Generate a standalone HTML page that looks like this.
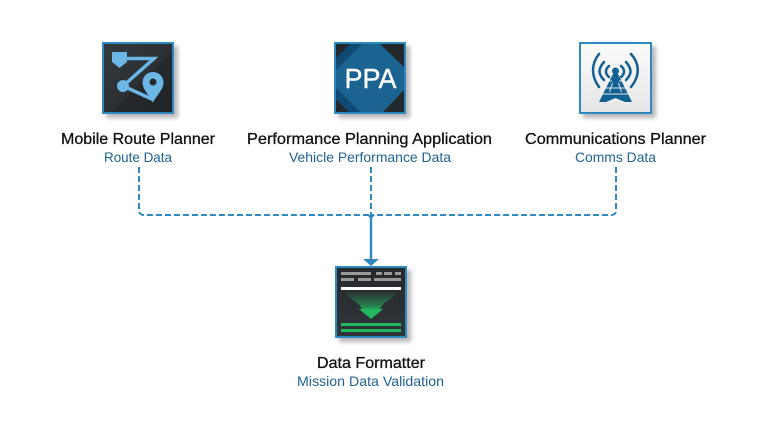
<!DOCTYPE html>
<html><head><meta charset="utf-8"><style>
html,body{margin:0;padding:0;background:#fff}
svg{display:block}
text{font-family:"Liberation Sans",sans-serif}
.t{font-size:16px;fill:#111;stroke:#111;stroke-width:.3px}
.s{font-size:14px;fill:#1f6391}
</style></head><body>
<svg width="769" height="435" viewBox="0 0 769 435" xmlns="http://www.w3.org/2000/svg">
<defs>
<linearGradient id="dk" x1="0" y1="0" x2="1" y2="1"><stop offset="0" stop-color="#33393e"/><stop offset=".55" stop-color="#2b3034"/><stop offset=".55" stop-color="#25292c"/><stop offset="1" stop-color="#202427"/></linearGradient>
<linearGradient id="lt" x1="0" y1="0" x2="0" y2="1"><stop offset="0" stop-color="#fbfbfb"/><stop offset="1" stop-color="#e6e6e6"/></linearGradient>
<linearGradient id="dk2" x1="0" y1="0" x2="0" y2="1"><stop offset="0" stop-color="#26292c"/><stop offset="1" stop-color="#303539"/></linearGradient>
<linearGradient id="gr" gradientUnits="userSpaceOnUse" x1="0" y1="291" x2="0" y2="319"><stop offset="0" stop-color="#22b85f" stop-opacity="0"/><stop offset=".55" stop-color="#22b85f" stop-opacity=".6"/><stop offset=".68" stop-color="#22b85f"/><stop offset="1" stop-color="#22b85f"/></linearGradient>
<filter id="sh" x="-20%" y="-20%" width="150%" height="150%"><feGaussianBlur stdDeviation="2"/></filter>
</defs>

<!-- shadows -->
<g fill="#000" opacity=".28" filter="url(#sh)">
<rect x="106" y="46" width="72" height="72"/><rect x="338" y="46" width="72" height="72"/><rect x="583" y="46" width="73" height="72"/><rect x="339" y="270" width="72" height="72"/>
</g>

<!-- Route planner -->
<rect x="103" y="43" width="70" height="70" fill="url(#dk)" stroke="#2f88c0" stroke-width="2"/>
<g fill="#6cb6e6" stroke="#6cb6e6">
<path d="M112 52h15v10l-7.500 6-7.500-6z" stroke="none"/>
<path d="M125 58.500h29L123 86l31 14" fill="none" stroke-width="3.500"/>
<circle cx="123" cy="86" r="6" stroke="none"/>
<path d="M153 72a10.500 10.500 0 0 1 10.500 10.500c0 7-7 13-10.500 20-3.500-7-10.500-13-10.500-20A10.500 10.500 0 0 1 153 72z" stroke="none"/>
</g>
<circle cx="153" cy="82" r="3.500" fill="#24292c"/>

<!-- PPA -->
<rect x="335" y="43" width="70" height="70" fill="#22282c" stroke="#2f88c0" stroke-width="2"/>
<path d="M362 44h18l24 23v23l-21 22h-23l-24-24V70z" fill="#1b6391"/>
<path d="M350 44h12L336 70V58zM336 88l24 24h-11l-13-13z" fill="#0e4a74"/>
<text x="370.500" y="88" text-anchor="middle" font-size="28" fill="#fff" stroke="#fff" stroke-width=".4" textLength="52" lengthAdjust="spacingAndGlyphs">PPA</text>

<!-- Comms -->
<rect x="580" y="43" width="71" height="70" fill="url(#lt)" stroke="#2f88c0" stroke-width="2"/>
<g fill="none" stroke="#136093" stroke-linecap="round" stroke-width="2.500">
<path d="M599 54C591 64 591 76 599 87M631 54C640 64 640 76 631 87"/>
<path d="M604 62C598 69 598 74 604 80M626 62C632 69 632 74 626 80"/>
<path d="M609 66C605 69 605 74 609 77M621 66C625 69 625 74 621 77"/>
</g>
<circle cx="615.500" cy="71" r="3.500" fill="#136093"/>
<path d="M613 74h5L632 102h-7l-9.500-4-9.500 4h-7z" fill="#136093"/>
<g stroke="#e4e8ea" stroke-width="1" fill="none"><path d="M609 81h3M619 81h3M605 88h21M602 94h27M612.500 83l-3 9M618.500 83l3 9"/></g>

<!-- Formatter -->
<rect x="336" y="267" width="70" height="70" fill="url(#dk2)" stroke="#2f88c0" stroke-width="2"/>
<g fill="#9a9a9a">
<rect x="341" y="272" width="30" height="3"/><rect x="376" y="272" width="6" height="3"/><rect x="384" y="272" width="8" height="3"/><rect x="395" y="272" width="6" height="3"/>
<rect x="341" y="278" width="13" height="3"/><rect x="358" y="278" width="13" height="3"/><rect x="374" y="278" width="27" height="3"/>
</g>
<rect x="341" y="287" width="60" height="3" fill="#fff"/>
<path d="M345 291h52c-3 9-13 9-17 18h3l-12 10-12-10h3c-4-9-14-9-17-18z" fill="url(#gr)"/>
<rect x="341" y="323" width="60" height="3" fill="#22b85f"/>
<rect x="341" y="329" width="60" height="3" fill="#22b85f"/>

<!-- Connectors -->
<g fill="none" stroke="#2f88c0" stroke-width="2" stroke-dasharray="6 3">
<path d="M139 167v43q0 5 5 5h227"/>
<path d="M616 167v43q0 5-5 5H371"/>
<path d="M371 167v48"/>
</g>
<path d="M371 215v45" stroke="#2f88c0" stroke-width="2.400" fill="none"/>
<path d="M363 259h16l-8 7z" fill="#2f88c0"/>
<path d="M367 215h8l-4 4z" fill="#2f88c0"/>

<!-- Labels -->
<text class="t" x="61" y="144" textLength="154" lengthAdjust="spacingAndGlyphs">Mobile Route Planner</text>
<text class="s" x="104" y="162" textLength="68" lengthAdjust="spacingAndGlyphs">Route Data</text>
<text class="t" x="247" y="144" textLength="245" lengthAdjust="spacingAndGlyphs">Performance Planning Application</text>
<text class="s" x="289" y="162" textLength="162" lengthAdjust="spacingAndGlyphs">Vehicle Performance Data</text>
<text class="t" x="525" y="144" textLength="181" lengthAdjust="spacingAndGlyphs">Communications Planner</text>
<text class="s" x="575" y="162" textLength="81" lengthAdjust="spacingAndGlyphs">Comms Data</text>
<text class="t" x="317" y="368" textLength="108" lengthAdjust="spacingAndGlyphs">Data Formatter</text>
<text class="s" x="297" y="386" textLength="147" lengthAdjust="spacingAndGlyphs">Mission Data Validation</text>
</svg>
</body></html>
